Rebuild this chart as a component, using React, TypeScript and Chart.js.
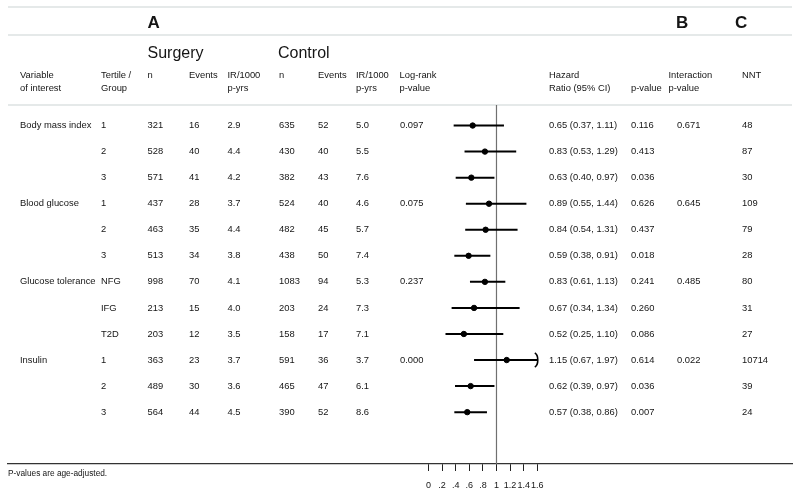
import React, { useEffect, useRef } from "react";
import { Chart, registerables } from "chart.js";

Chart.register(...registerables);

// ---- Data ----
const variables = ["Body mass index", "", "", "Blood glucose", "", "", "Glucose tolerance", "", "", "Insulin", "", ""];
const groups = ["1", "2", "3", "1", "2", "3", "NFG", "IFG", "T2D", "1", "2", "3"];
const surgN = ["321", "528", "571", "437", "463", "513", "998", "213", "203", "363", "489", "564"];
const surgEvents = ["16", "40", "41", "28", "35", "34", "70", "15", "12", "23", "30", "44"];
const surgIR = ["2.9", "4.4", "4.2", "3.7", "4.4", "3.8", "4.1", "4.0", "3.5", "3.7", "3.6", "4.5"];
const ctrlN = ["635", "430", "382", "524", "482", "438", "1083", "203", "158", "591", "465", "390"];
const ctrlEvents = ["52", "40", "43", "40", "45", "50", "94", "24", "17", "36", "47", "52"];
const ctrlIR = ["5.0", "5.5", "7.6", "4.6", "5.7", "7.4", "5.3", "7.3", "7.1", "3.7", "6.1", "8.6"];
const logRankP = ["0.097", "", "", "0.075", "", "", "0.237", "", "", "0.000", "", ""];
const hr = [0.65, 0.83, 0.63, 0.89, 0.84, 0.59, 0.83, 0.67, 0.52, 1.15, 0.62, 0.57];
const ciLow = [0.37, 0.53, 0.40, 0.55, 0.54, 0.38, 0.61, 0.34, 0.25, 0.67, 0.39, 0.38];
const ciHigh = [1.11, 1.29, 0.97, 1.44, 1.31, 0.91, 1.13, 1.34, 1.10, 1.97, 0.97, 0.86];
const hrP = ["0.116", "0.413", "0.036", "0.626", "0.437", "0.018", "0.241", "0.260", "0.086", "0.614", "0.036", "0.007"];
const interactionP = ["0.671", "", "", "0.645", "", "", "0.485", "", "", "0.022", "", ""];
const nnt = ["48", "87", "30", "109", "79", "28", "80", "31", "27", "10714", "39", "24"];
const xTicks = [0, 0.2, 0.4, 0.6, 0.8, 1, 1.2, 1.4, 1.6];
const xTickLabels = ["0", ".2", ".4", ".6", ".8", "1", "1.2", "1.4", "1.6"];
const axisMax = 1.6;

const FONT = "'Liberation Sans', Arial, sans-serif";
const TXT = "#151515";

function fmtHR(i: number) {
  return `${hr[i].toFixed(2)} (${ciLow[i].toFixed(2)}, ${ciHigh[i].toFixed(2)})`;
}

const tablePlugin = {
  id: "tableText",
  beforeDatasetsDraw(chart: any) {
    const ctx = chart.ctx as CanvasRenderingContext2D;
    const xs = chart.scales.x;
    ctx.save();
    ctx.strokeStyle = "#ccd4d4";
    ctx.lineWidth = 1.2;
    [7, 35, 105].forEach((y) => {
      ctx.beginPath();
      ctx.moveTo(8, y);
      ctx.lineTo(792, y);
      ctx.stroke();
    });
    const x1 = xs.getPixelForValue(1);
    ctx.strokeStyle = "#707070";
    ctx.lineWidth = 1.2;
    ctx.beginPath();
    ctx.moveTo(x1, 105);
    ctx.lineTo(x1, chart.chartArea.bottom);
    ctx.stroke();
    ctx.restore();
  },
  afterDraw(chart: any) {
    const ctx = chart.ctx as CanvasRenderingContext2D;
    const xs = chart.scales.x;
    const ys = chart.scales.y;
    ctx.save();
    ctx.fillStyle = TXT;
    ctx.textBaseline = "middle";
    ctx.textAlign = "left";

    ctx.font = `bold 17px ${FONT}`;
    ctx.fillText("A", 147.5, 23);
    ctx.fillText("B", 676, 23);
    ctx.fillText("C", 735, 23);

    ctx.font = `16px ${FONT}`;
    ctx.fillText("Surgery", 147.5, 54);
    ctx.fillText("Control", 278, 54);

    ctx.font = `9.4px ${FONT}`;
    const l1 = 75.5;
    const l2 = 88;
    const headers: [number, string, string][] = [
      [20, "Variable", "of interest"],
      [101, "Tertile /", "Group"],
      [147.5, "n", ""],
      [189, "Events", ""],
      [227.5, "IR/1000", "p-yrs"],
      [279, "n", ""],
      [318, "Events", ""],
      [356, "IR/1000", "p-yrs"],
      [399.5, "Log-rank", "p-value"],
      [549, "Hazard", "Ratio (95% CI)"],
      [631, "", "p-value"],
      [668.5, "Interaction", "p-value"],
      [742, "NNT", ""],
    ];
    headers.forEach(([x, a, b]) => {
      if (a) ctx.fillText(a, x, l1);
      if (b) ctx.fillText(b, x, l2);
    });

    for (let i = 0; i < groups.length; i++) {
      const y = ys.getPixelForValue(i);
      const cells: [number, string][] = [
        [20, variables[i]],
        [101, groups[i]],
        [147.5, surgN[i]],
        [189, surgEvents[i]],
        [227.5, surgIR[i]],
        [279, ctrlN[i]],
        [318, ctrlEvents[i]],
        [356, ctrlIR[i]],
        [400, logRankP[i]],
        [549, fmtHR(i)],
        [631, hrP[i]],
        [677, interactionP[i]],
        [742, nnt[i]],
      ];
      cells.forEach(([x, t]) => {
        if (t) ctx.fillText(t, x, y);
      });

      if (ciHigh[i] > axisMax) {
        const xa = xs.getPixelForValue(axisMax);
        ctx.strokeStyle = "#000";
        ctx.lineWidth = 1.6;
        ctx.beginPath();
        ctx.moveTo(xa - 2.5, y - 7);
        ctx.bezierCurveTo(xa + 1.5, y - 5, xa + 1.5, y + 5, xa - 2.5, y + 7);
        ctx.stroke();
      }
    }

    ctx.font = `8.3px ${FONT}`;
    ctx.fillText("P-values are age-adjusted.", 8, 473.5);
    ctx.restore();
  },
};

export default function App() {
  const ref = useRef<HTMLCanvasElement | null>(null);

  useEffect(() => {
    document.body.style.margin = "0";
    if (!ref.current) return;

    const ciSets = hr.map((_, i) => ({
      type: "scatter" as const,
      data: [
        { x: ciLow[i], y: i },
        { x: Math.min(ciHigh[i], axisMax), y: i },
      ],
      showLine: true,
      borderColor: "#000",
      borderWidth: 2,
      pointRadius: 0,
    }));

    const chart = new Chart(ref.current, {
      type: "scatter",
      data: {
        datasets: [
          ...ciSets,
          {
            type: "scatter" as const,
            data: hr.map((v, i) => ({ x: v, y: i })),
            pointRadius: 2.7,
            pointBackgroundColor: "#000",
            pointBorderColor: "#000",
            showLine: false,
          },
        ],
      },
      options: {
        animation: false,
        responsive: false,
        maintainAspectRatio: false,
        layout: { padding: { left: 8, right: 8, top: 7, bottom: 0 } },
        plugins: { legend: { display: false }, tooltip: { enabled: false } },
        scales: {
          x: {
            type: "linear",
            position: "bottom",
            min: -6.184,
            max: 5.346,
            afterBuildTicks: (axis: any) => {
              axis.ticks = xTicks.map((v) => ({ value: v }));
            },
            afterFit: (axis: any) => {
              axis.height = 31;
            },
            ticks: {
              autoSkip: false,
              maxRotation: 0,
              padding: 9,
              color: TXT,
              font: { family: FONT, size: 9 },
              callback: (v: any) => {
                const idx = xTicks.findIndex((t) => Math.abs(t - Number(v)) < 1e-6);
                return idx >= 0 ? xTickLabels[idx] : "";
              },
            },
            grid: {
              drawOnChartArea: false,
              drawTicks: true,
              tickLength: 7,
              color: "#222",
              lineWidth: 1,
            },
            border: { display: true, color: "#333", width: 1.2 },
          },
          y: {
            type: "linear",
            display: false,
            reverse: true,
            min: -4.549,
            max: 12.99,
          },
        },
      },
      plugins: [tablePlugin],
    });
    return () => chart.destroy();
  }, []);

  return (
    <div style={{ width: 800, height: 495, background: "#fff" }}>
      <canvas ref={ref} width={800} height={495} style={{ width: 800, height: 495, display: "block" }} />
    </div>
  );
}
